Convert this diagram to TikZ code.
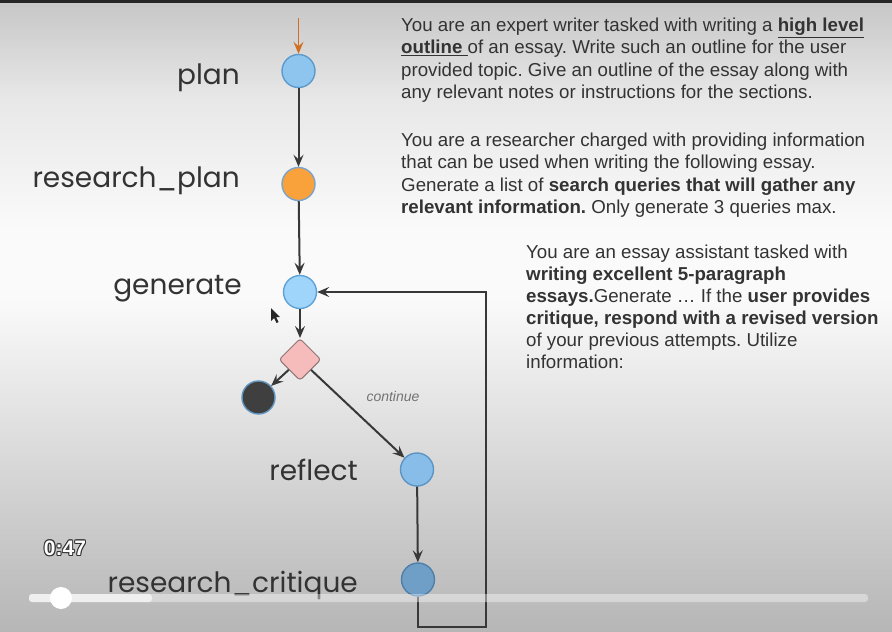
\documentclass[tikz,border=0pt]{standalone}
\usepackage{fontspec}
\setmainfont{Liberation Sans}
\newfontfamily\pop{Poppins}
\usetikzlibrary{shapes.geometric,arrows.meta}
\frenchspacing
\definecolor{bgA}{HTML}{B6B6B6}
\definecolor{bgB}{HTML}{D0D0D0}
\definecolor{bgC}{HTML}{FAFAFA}
\definecolor{bgD}{HTML}{E8E8E8}
\definecolor{bgE}{HTML}{C8C8C8}
\definecolor{labc}{HTML}{333333}
\definecolor{txtc}{HTML}{333333}
\definecolor{linec}{HTML}{383838}
\definecolor{orng}{HTML}{D06E22}
\definecolor{cplan}{HTML}{8EC5EE}
\definecolor{bplan}{HTML}{5C9ACB}
\definecolor{crp}{HTML}{F9A13A}
\definecolor{brp}{HTML}{7AA4CC}
\definecolor{cgen}{HTML}{9FD4FB}
\definecolor{bgen}{HTML}{5FA2D6}
\definecolor{cend}{HTML}{3F3F3F}
\definecolor{bend}{HTML}{5F93C0}
\definecolor{crefl}{HTML}{87BDE8}
\definecolor{brefl}{HTML}{5C94C4}
\definecolor{ccrit}{HTML}{6F9FC7}
\definecolor{bcrit}{HTML}{4F7FA8}
\definecolor{cdia}{HTML}{F6BCBC}
\definecolor{bdia}{HTML}{8F7676}
\pgfdeclareverticalshading{bgsh}{100bp}{color(0bp)=(bgA); color(25bp)=(bgA); color(35.4bp)=(bgB); color(51.3bp)=(bgC); color(56.8bp)=(bgC); color(67.1bp)=(bgD); color(74.6bp)=(bgE); color(100bp)=(bgE)}
\begin{document}
\begin{tikzpicture}[x=1pt,y=-1pt,
  lab/.style={font=\pop\fontsize{28}{34}\selectfont, text=labc, inner sep=0, anchor=base east},
  st/.style={circle, draw, line width=1.4pt, minimum size=33pt, inner sep=0},
  tip/.style={-{Stealth[length=12pt,width=10pt,inset=4.5pt]}},
  edge/.style={draw=linec, line width=2pt, tip},
  prm/.style={font=\fontsize{18.7}{22.5}\selectfont, text=txtc, align=left, anchor=north west, inner sep=0},
]
\useasboundingbox (0,0) rectangle (892,632);
\fill[shading=bgsh] (0,0) rectangle (892,632);
\fill[black!85] (0,0) rectangle (892,2.5);

% states
\node[st, fill=cplan, draw=bplan] (plan) at (298.5,71) {};
\node[st, fill=crp, draw=brp] (rplan) at (298.5,184) {};
\node[st, fill=cgen, draw=bgen] (gen) at (300,292) {};
\node[diamond, draw=bdia, fill=cdia, line width=1pt, minimum width=42pt, minimum height=42pt, inner sep=0, rounded corners=3pt] (dia) at (300,359.5) {};
\node[st, fill=cend, draw=bend] (end) at (258.5,397.5) {};
\node[st, fill=crefl, draw=brefl] (refl) at (417,469.5) {};
\node[st, fill=ccrit, draw=bcrit] (crit) at (418,579.5) {};
\coordinate (start) at (298.5,18);
\coordinate (lb) at (418,627);
\coordinate (rb) at (485.5,627);
\coordinate (rt) at (485.5,292);

% labels
\node[lab] (lplan) at (240,84) {plan};
\node[lab] (lrplan) at (240,187) {research\_plan};
\node[lab] (lgen) at (242,294) {generate};
\node[lab] (lrefl) at (358,480) {reflect};
\node[lab] (lcrit) at (358,592) {research\_critique};
\node[font=\itshape\fontsize{14}{16}\selectfont, text=black!55, inner sep=0, anchor=base] (lcont) at (393,401) {continue};

% edges
\draw[orng, line width=1.6pt, tip] (start) -- (plan);
\draw[edge] (plan) -- (rplan);
\draw[edge] (rplan) -- (gen);
\draw[edge] (gen) -- (dia);
\draw[edge] (dia) -- (end);
\draw[edge] (dia) -- (refl);
\draw[edge] (refl) -- (crit);
\draw[edge] (crit.south) -- (lb) -- (rb) -- (rt) -- (gen);

% prompts
\node[prm] (p1) at (401,17.6) {You are an expert writer tasked with writing a \underline{\textbf{high level}}\\
\underline{\textbf{outline\ }}of an essay. Write such an outline for the user\\
provided topic. Give an outline of the essay along with\\
any relevant notes or instructions for the sections.};
\node[prm] (p2) at (401,132.3) {You are a researcher charged with providing information\\
that can be used when writing the following essay.\\
Generate a list of \textbf{search queries that will gather any}\\
\textbf{relevant information.} Only generate 3 queries max.};
\node[prm, font=\fontsize{18.7}{21.9}\selectfont] (p3) at (526,244.9) {You are an essay assistant tasked with\\
\textbf{writing excellent 5-paragraph}\\
\textbf{essays.}Generate \dots{} If the \textbf{user provides}\\
\textbf{critique, respond with a revised version}\\
of your previous attempts. Utilize\\
information:};

% cursor
\fill[black!85] (271,308) -- (271,321) -- (274,318) -- (276.5,323) -- (278.5,322) -- (276,317) -- (280,317) -- cycle;

% video overlay
\fill[white, opacity=0.4, rounded corners=3pt] (29,594) rectangle (868,602);
\fill[white!95!black, opacity=0.9, rounded corners=3pt] (29,594) rectangle (152,602);
\fill[white] (61,598) circle (11);
\foreach \dx/\dy in {-1/0,1/0,0/-1,0/1,-0.8/-0.8,0.8/0.8,-0.8/0.8,0.8/-0.8}
  \node[font=\bfseries\fontsize{21}{24}\selectfont, text=black!80, inner sep=0] at (65+\dx,548+\dy) {0:47};
\node[font=\bfseries\fontsize{21}{24}\selectfont, text=white, inner sep=0] (time) at (65,548) {0:47};
\end{tikzpicture}
\end{document}
